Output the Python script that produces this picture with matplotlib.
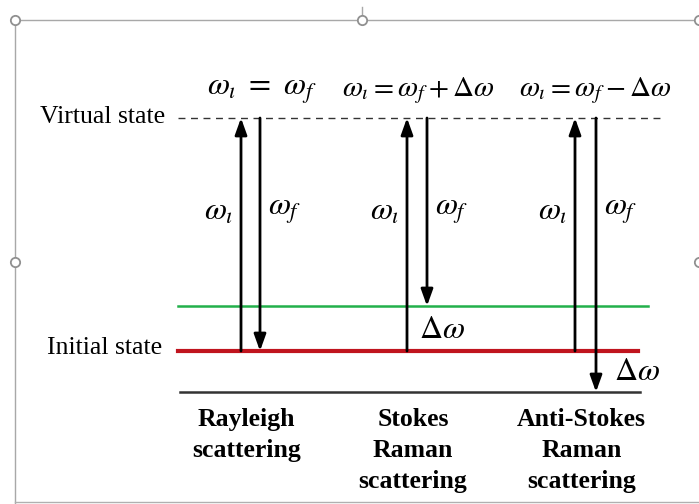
import matplotlib.pyplot as plt
from matplotlib.patches import FancyArrowPatch

plt.rcParams['font.family'] = ['Liberation Serif', 'DejaVu Serif']
plt.rcParams['mathtext.fontset'] = 'stix'

# energy levels (pixel rows in the drawing)
virtual_y = 118
excited_y = 306
initial_y = 351
ground_y = 392

# arrow columns per process: (x_up, x_down)
processes = ['Rayleigh\nscattering', 'Stokes\nRaman\nscattering', 'Anti-Stokes\nRaman\nscattering']
up_x = [241, 407, 575]
down_x = [260, 427, 596]
up_from = [initial_y, initial_y, initial_y]
down_to = [initial_y, excited_y, ground_y]
relations = [r'$\omega_\iota\ =\ \omega_f$', r'$\omega_\iota = \omega_f + \Delta\omega$',
             r'$\omega_\iota = \omega_f - \Delta\omega$']
relation_x = [262, 418, 595]
relation_size = [23, 21, 21]
shift_labels = [(442, 330), (637, 373)]

# selection frame handles
handle_x = [15, 362, 699, 15, 699]
handle_y = [20, 20, 20, 262, 262]

fig = plt.figure(figsize=(6.99, 5.04), dpi=100)
ax = fig.add_axes([0, 0, 1, 1])
ax.set_xlim(0, 699)
ax.set_ylim(504, 0)
ax.axis('off')

# frame
ax.plot([15, 699], [20, 20], color='#a8a8a8', lw=1)
ax.plot([15, 15], [20, 504], color='#a8a8a8', lw=1)
ax.plot([15, 699], [502, 502], color='#b0b0b0', lw=1)
ax.plot([362, 362], [7, 20], color='#a8a8a8', lw=1)
ax.scatter(handle_x, handle_y, s=45, facecolor='white', edgecolor='#909090', lw=1.3, zorder=5)

# levels
ax.plot([178, 660], [virtual_y, virtual_y], color='#333333', lw=1, ls=(0, (5, 4)))
ax.plot([178, 648], [excited_y, excited_y], color='#22b04a', lw=1.8)
ax.plot([178, 638], [initial_y, initial_y], color='#c0141e', lw=3)
ax.plot([180, 640], [ground_y, ground_y], color='#333333', lw=1.8)

ax.text(165, virtual_y - 1, 'Virtual state', fontsize=18.5, ha='right', va='center')
ax.text(162, initial_y - 3, 'Initial state', fontsize=18.5, ha='right', va='center')


def arrow(x, y0, y1):
    ax.add_patch(FancyArrowPatch((x, y0), (x, y1), arrowstyle='-|>,head_length=5,head_width=1.8',
                                 mutation_scale=2, color='black', lw=2, shrinkA=0, shrinkB=0, zorder=4))


for i, name in enumerate(processes):
    arrow(up_x[i], up_from[i], virtual_y)
    arrow(down_x[i], virtual_y, down_to[i])
    ax.text(up_x[i] - 8, 212, r'$\omega_\iota$', fontsize=23, ha='right', va='center')
    ax.text(down_x[i] + 8, 212, r'$\omega_f$', fontsize=23, ha='left', va='center')
    ax.text(relation_x[i], 91, relations[i], fontsize=relation_size[i], ha='center', va='center')
    ax.text((up_x[i] + down_x[i]) / 2 - 4, 408, name, fontsize=18.5, fontweight='bold',
            ha='center', va='top', linespacing=1.45)

for x, y in shift_labels:
    ax.text(x, y, r'$\Delta\omega$', fontsize=23, ha='center', va='center')

fig.savefig('out.png', dpi=100)
